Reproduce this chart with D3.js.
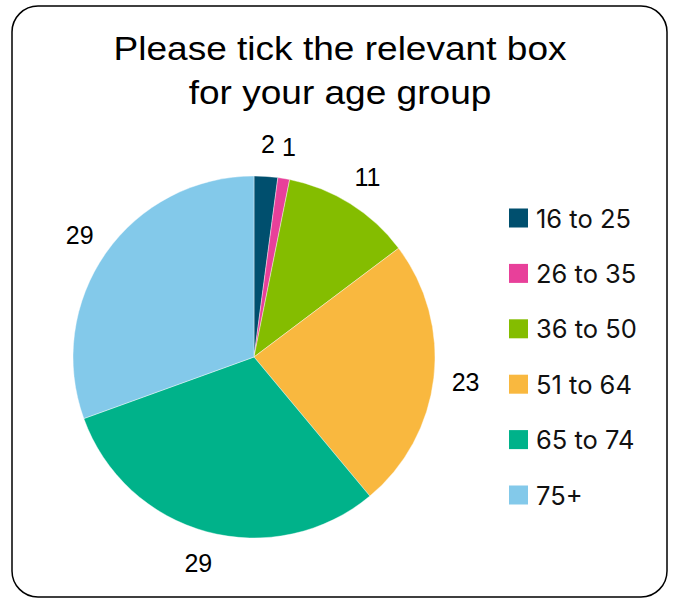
<!DOCTYPE html>
<html><head><meta charset="utf-8">
<script src="https://cdn.jsdelivr.net/npm/d3@7"></script>
<style>body{margin:0;background:#fff}svg{display:block}</style>
</head><body>
<svg id="c" width="677" height="598"></svg>
<script>
const titleLines = ["Please tick the relevant box", "for your age group"];
const categories = ["16 to 25", "26 to 35", "36 to 50", "51 to 64", "65 to 74", "75+"];
const values = [2, 1, 11, 23, 29, 29];
const colors = ["#004f6e", "#e8409a", "#84bd00", "#f9b83f", "#00b28a", "#83c9ea"];

const svg = d3.select("#c");
svg.append("rect").attr("x", 12).attr("y", 6).attr("width", 655).attr("height", 591)
  .attr("rx", 26).attr("fill", "#fff").attr("stroke", "#000").attr("stroke-width", 1.5);

svg.append("g").attr("transform", "translate(340,0) scale(1.09,1)")
  .selectAll("text").data(titleLines).join("text")
  .attr("x", 0).attr("y", (d, i) => 60 + i * 44)
  .attr("text-anchor", "middle")
  .attr("font-family", "Liberation Sans, Arial, sans-serif")
  .attr("font-size", 34).attr("fill", "#000").text(d => d);

const cx = 254, cy = 357, R = 181, LR = 213;
const color = d3.scaleOrdinal().domain(categories).range(colors);
const pie = d3.pie().sort(null).value(d => d.v);
const data = categories.map((c, i) => ({c, v: values[i]}));
const arcs = pie(data);
const arc = d3.arc().innerRadius(0).outerRadius(R);
const labelArc = d3.arc().innerRadius(LR).outerRadius(LR);

const g = svg.append("g").attr("transform", `translate(${cx},${cy})`);
g.selectAll("path").data(arcs).join("path")
  .attr("d", arc).attr("fill", d => color(d.data.c))
  .attr("stroke", "#fff").attr("stroke-width", 0.4);

g.selectAll("text").data(arcs).join("text")
  .attr("transform", d => `translate(${labelArc.centroid(d)})`)
  .attr("text-anchor", "middle").attr("dominant-baseline", "central")
  .attr("font-family", "Liberation Sans, Arial, sans-serif")
  .attr("font-size", 25).attr("fill", "#000")
  .text(d => d.data.v);

const lg = svg.append("g").attr("transform", "translate(509,218)");
const item = lg.selectAll("g").data(categories).join("g")
  .attr("transform", (d, i) => `translate(0,${i * 55.4})`);
item.append("rect").attr("x", 0).attr("y", -9.5).attr("width", 19).attr("height", 19)
  .attr("fill", d => color(d));
item.append("text").attr("x", 27).attr("y", 0).attr("dominant-baseline", "central")
  .attr("font-family", "Inter, sans-serif").attr("font-size", 25.5).attr("fill", "#111")
  .text(d => d);
</script>
</body></html>
